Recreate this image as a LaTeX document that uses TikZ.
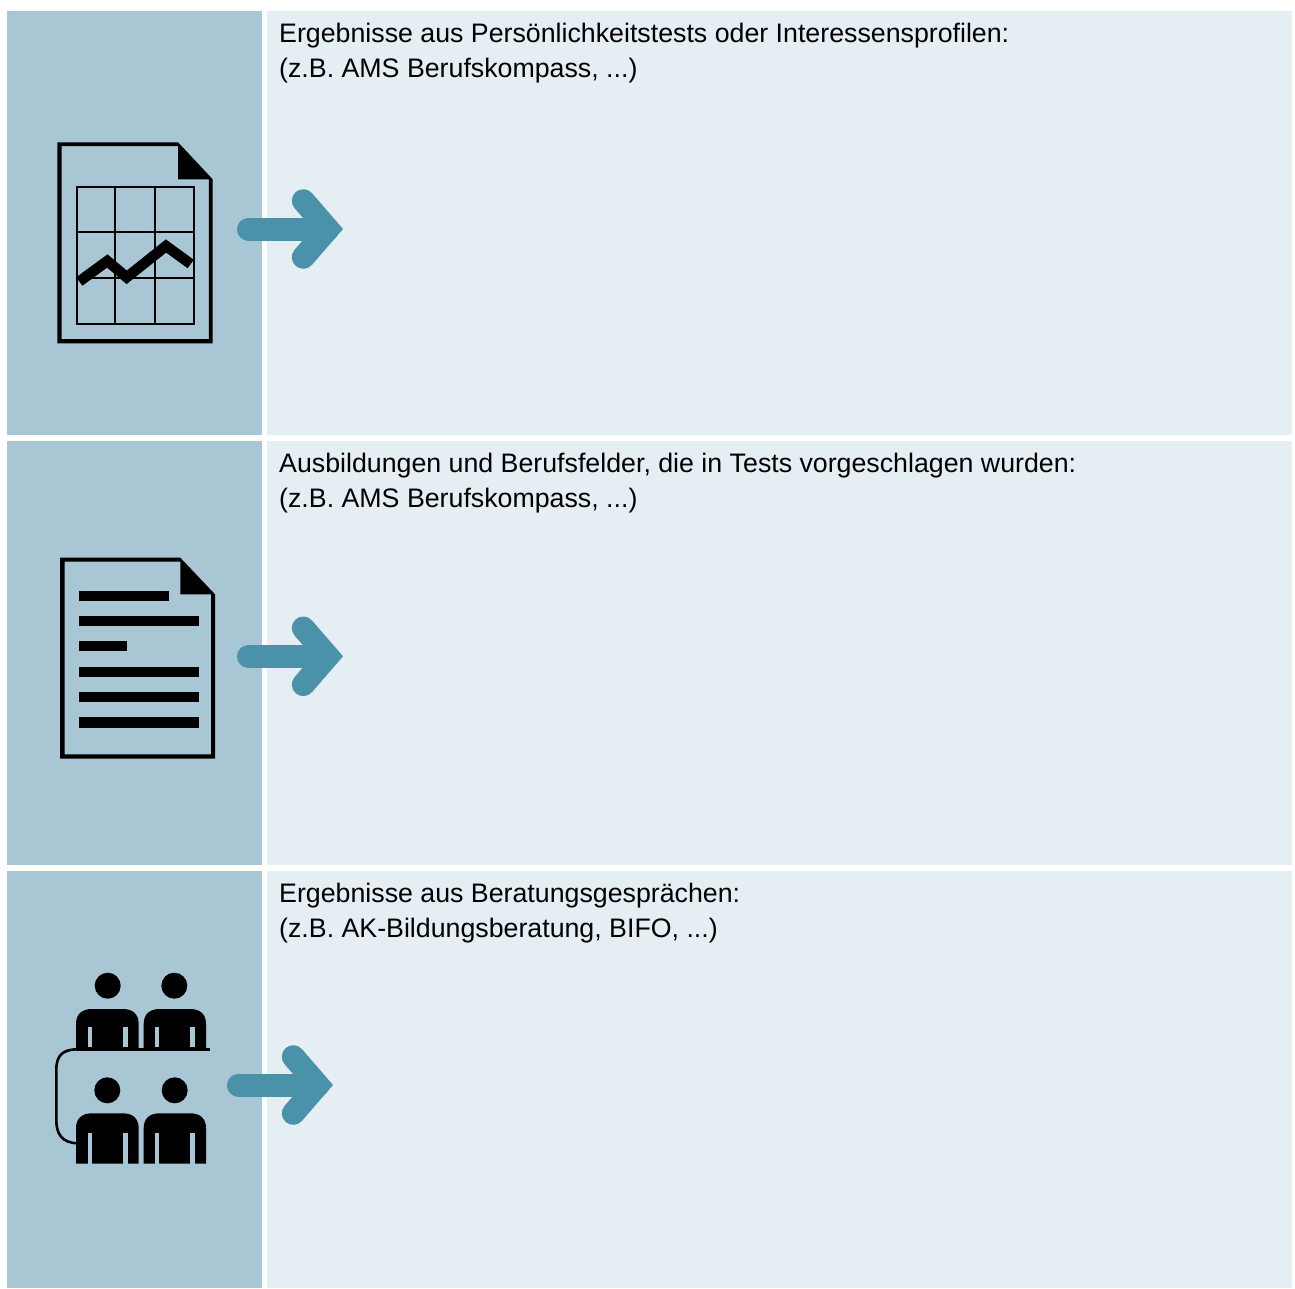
\documentclass[tikz,border=0pt]{standalone}
\usepackage{fontspec}
\setmainfont{Liberation Sans}
\definecolor{sidecol}{HTML}{A8C6D3}
\definecolor{maincol}{HTML}{E5EEF3}
\definecolor{arrowcol}{HTML}{4A92AA}
\tikzset{
  sidepanel/.style={fill=sidecol,draw=none},
  mainpanel/.style={fill=maincol,draw=none},
  rowtext/.style={anchor=north west,inner sep=0pt,align=left,text=black,font=\fontsize{26.75}{35}\selectfont},
  arrowshaft/.style={draw=arrowcol,line width=23pt,line cap=round},
  arrowhead/.style={draw=arrowcol,line width=23pt,line cap=round,line join=miter,miter limit=10},
  gridline/.style={draw=black,line width=2pt},
}
\newcommand{\bluearrow}[2]{%
  \begin{scope}[shift={(#1,#2)}]
    \draw[arrowshaft] (248.5,0) -- (327.8,0);
    \draw[arrowhead] (303.3,-28.3) -- (327.8,0) -- (303.3,28.3);
  \end{scope}}
\newcommand{\docoutline}[8]{%
  \fill[black,even odd rule] (#1,#2) -- (#5,#2) -- (#3,#6) -- (#3,#4) -- (#1,#4) -- cycle
     (#7,#8) -- (#5,#8) -- (#5,#6) -- (#3-3.9,#6) -- (#3-3.9,#4-4.3) -- (#7,#4-4.3) -- cycle;}
\newcommand{\personbody}[4]{%
  \fill[black] (#1,#4) -- (#1,#3+15) .. controls (#1,#3+5) and (#1+6,#3) .. (#1+16,#3) -- (#2-16,#3) .. controls (#2-6,#3) and (#2,#3+5) .. (#2,#3+15) -- (#2,#4) -- cycle;}
\begin{document}
\begin{tikzpicture}[x=1pt,y=-1pt]
\useasboundingbox (0,0) rectangle (1295,1288);
\fill[white] (0,0) rectangle (1295,1288);
% panels
\fill[sidepanel] (7,10.7) rectangle (261.5,435);
\fill[mainpanel] (266.7,10.7) rectangle (1292.3,435);
\fill[sidepanel] (7,440.8) rectangle (261.5,865);
\fill[mainpanel] (266.7,440.8) rectangle (1292.3,865);
\fill[sidepanel] (7,870.8) rectangle (261.5,1288);
\fill[mainpanel] (266.7,870.8) rectangle (1292.3,1288);
% texts
\node[rowtext] (t1) at (279,16) {\rule{0pt}{26pt}Ergebnisse aus Persönlichkeitstests oder Interessensprofilen:\\(z.B. AMS Berufskompass, ...)};
\node[rowtext] (t2) at (279,446) {\rule{0pt}{26pt}Ausbildungen und Berufsfelder, die in Tests vorgeschlagen wurden:\\(z.B. AMS Berufskompass, ...)};
\node[rowtext] (t3) at (279,876) {\rule{0pt}{26pt}Ergebnisse aus Beratungsgesprächen:\\(z.B. AK-Bildungsberatung, BIFO, ...)};
% arrows
\bluearrow{0}{229}
\bluearrow{0}{656.3}
\bluearrow{-10}{1085}
% chart document
\docoutline{57.3}{142.3}{212.7}{343.3}{178}{179.3}{61.7}{146}
\draw[gridline] (76.7,186.7) rectangle (193.8,323.5);
\draw[gridline] (115.3,186.7) -- (115.3,323.5);
\draw[gridline] (155,186.7) -- (155,323.5);
\draw[gridline] (76.7,231.7) -- (193.8,231.7);
\draw[gridline] (76.7,277.7) -- (193.8,277.7);
\draw[black,line width=10.5pt,line join=miter] (79.3,281.5) -- (107.3,261) -- (126.7,277.3) -- (166,246) -- (190.7,264);
% text document
\docoutline{60}{557.7}{215}{758.7}{180.3}{594.3}{64.7}{561.5}
\fill[black] (79.3,591) rectangle (168.7,600.7);
\fill[black] (79.3,616) rectangle (198.7,626);
\fill[black] (79.3,641.3) rectangle (126.7,651.3);
\fill[black] (79.3,666.7) rectangle (198.7,676.7);
\fill[black] (79.3,692) rectangle (198.7,702);
\fill[black] (79.3,717.3) rectangle (198.7,727.5);
% people: upper row
\fill[black] (107.7,985.7) circle (13);
\fill[black] (174.3,985.7) circle (13);
\personbody{76}{138.7}{1009}{1048}
\personbody{143.7}{206}{1009}{1048}
\fill[sidecol] (88,1027.3) rectangle (92.3,1047.4);
\fill[sidecol] (123,1027.3) rectangle (128,1047.4);
\fill[sidecol] (154.7,1027.3) rectangle (159,1047.4);
\fill[sidecol] (190.3,1027.3) rectangle (194.7,1047.4);
\draw[black,line width=3.5pt] (210,1049.3) -- (76,1049.3);
% people: lower row
\fill[black] (107.3,1090.3) circle (13);
\fill[black] (174.7,1090.3) circle (13);
\personbody{76}{138.7}{1113.3}{1163.7}
\personbody{143.7}{206}{1113.3}{1163.7}
\fill[sidecol] (88,1132.7) rectangle (92.3,1164);
\fill[sidecol] (123,1132.7) rectangle (128,1164);
\fill[sidecol] (154.7,1132.7) rectangle (159,1164);
\fill[sidecol] (190.3,1132.7) rectangle (194.7,1164);
% connecting line
\draw[black,line width=2.6pt] (78,1049.3) .. controls (63,1049.3) and (56.3,1055) .. (56.3,1070) -- (56.3,1120) .. controls (56.3,1134) and (62,1143) .. (78,1143.3);
\end{tikzpicture}
\end{document}
